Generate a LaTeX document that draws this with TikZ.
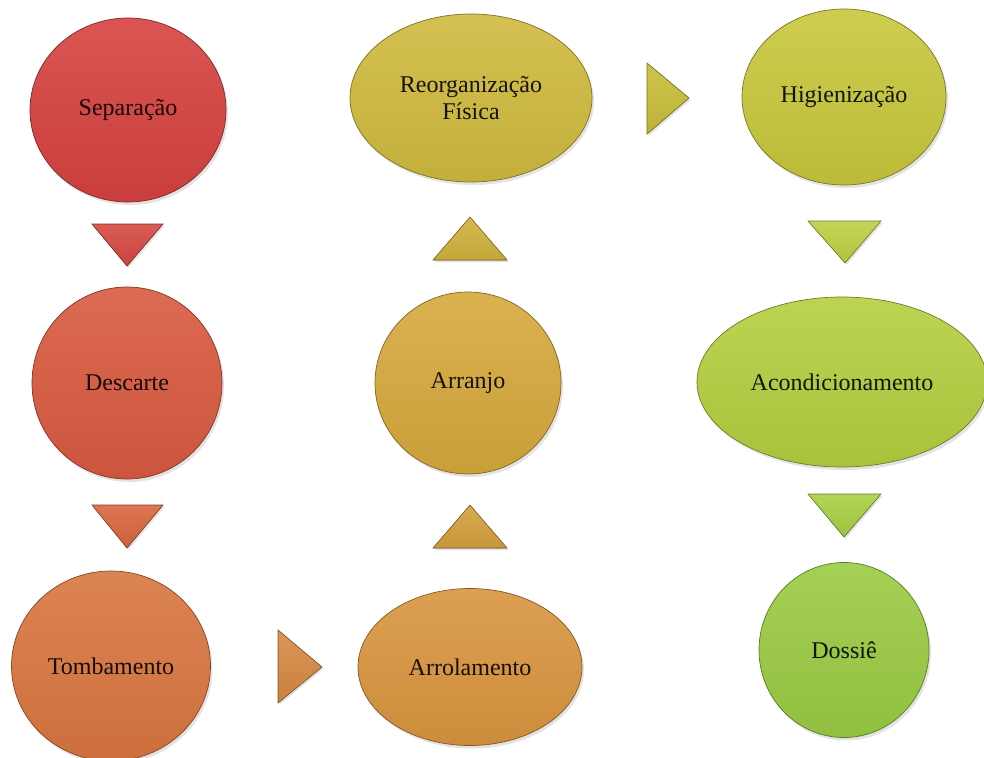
\documentclass[tikz,border=0pt]{standalone}
\usepackage{fontspec}
\setmainfont{Liberation Serif}
\usetikzlibrary{shapes.geometric,shadows}
\definecolor{cSep}{HTML}{D64240}
\definecolor{cT1}{HTML}{D64942}
\definecolor{cDes}{HTML}{D95A40}
\definecolor{cT2}{HTML}{D9663F}
\definecolor{cTom}{HTML}{D97640}
\definecolor{cT3}{HTML}{D68943}
\definecolor{cArr}{HTML}{D9953F}
\definecolor{cT4}{HTML}{D4A03E}
\definecolor{cAnj}{HTML}{D6A93C}
\definecolor{cT5}{HTML}{D0B13D}
\definecolor{cReo}{HTML}{D0BA3E}
\definecolor{cT6}{HTML}{C8BE3A}
\definecolor{cHig}{HTML}{C8C73C}
\definecolor{cT7}{HTML}{BECF43}
\definecolor{cAco}{HTML}{B4CF40}
\definecolor{cT8}{HTML}{A9CF44}
\definecolor{cDos}{HTML}{9ACB43}
\tikzset{
  blob/.style={ellipse, draw=#1!60!black, line width=0.7pt,
    top color=#1!90!white, bottom color=#1!94!black,
    text=#1!10!black, inner sep=0pt, align=center,
    font=\fontsize{24}{27}\selectfont,
    drop shadow={opacity=0.22, shadow xshift=2pt, shadow yshift=-3pt}},
  tri/.style={draw=#1!60!black, line width=0.6pt,
    top color=#1!90!white, bottom color=#1!94!black,
    drop shadow={opacity=0.22, shadow xshift=1.5pt, shadow yshift=-2pt}}
}
\begin{document}
\begin{tikzpicture}[x=1pt,y=-1pt]
\useasboundingbox (0,0) rectangle (984,757);
% column 1
\node[blob=cSep, minimum width=196pt, minimum height=184pt] (sep) at (128,110) {Separação};
\node[blob=cDes, minimum width=190pt, minimum height=192pt] (des) at (127,383) {Descarte};
\node[blob=cTom, minimum width=199pt, minimum height=190pt] (tom) at (111,666) {Tombamento};
% column 2
\node[blob=cArr, minimum width=224pt, minimum height=157pt] (arr) at (470,667) {Arrolamento};
\node[blob=cAnj, minimum width=186pt, minimum height=182pt] (anj) at (468,383) {Arranjo};
\node[blob=cReo, minimum width=242pt, minimum height=168pt] (reo) at (471,98) {Reorganização\\Física};
% column 3
\node[blob=cHig, minimum width=204pt, minimum height=176pt] (hig) at (844,97) {Higienização};
\node[blob=cAco, minimum width=290pt, minimum height=170pt] (aco) at (842,382) {Acondicionamento};
\node[blob=cDos, minimum width=170pt, minimum height=175pt] (dos) at (844,650) {Dossiê};
% triangles
\fill[tri=cT1] (92,224) -- (163,224) -- (127,266) -- cycle;
\fill[tri=cT2] (92,505) -- (163,505) -- (127,548) -- cycle;
\fill[tri=cT3] (278,630) -- (278,703) -- (322,667) -- cycle;
\fill[tri=cT4] (433,548) -- (507,548) -- (470,505) -- cycle;
\fill[tri=cT5] (433,260) -- (507,260) -- (470,217) -- cycle;
\fill[tri=cT6] (647,63) -- (647,134) -- (689,98) -- cycle;
\fill[tri=cT7] (808,221) -- (881,221) -- (845,263) -- cycle;
\fill[tri=cT8] (808,494) -- (881,494) -- (844,537) -- cycle;
\end{tikzpicture}
\end{document}
